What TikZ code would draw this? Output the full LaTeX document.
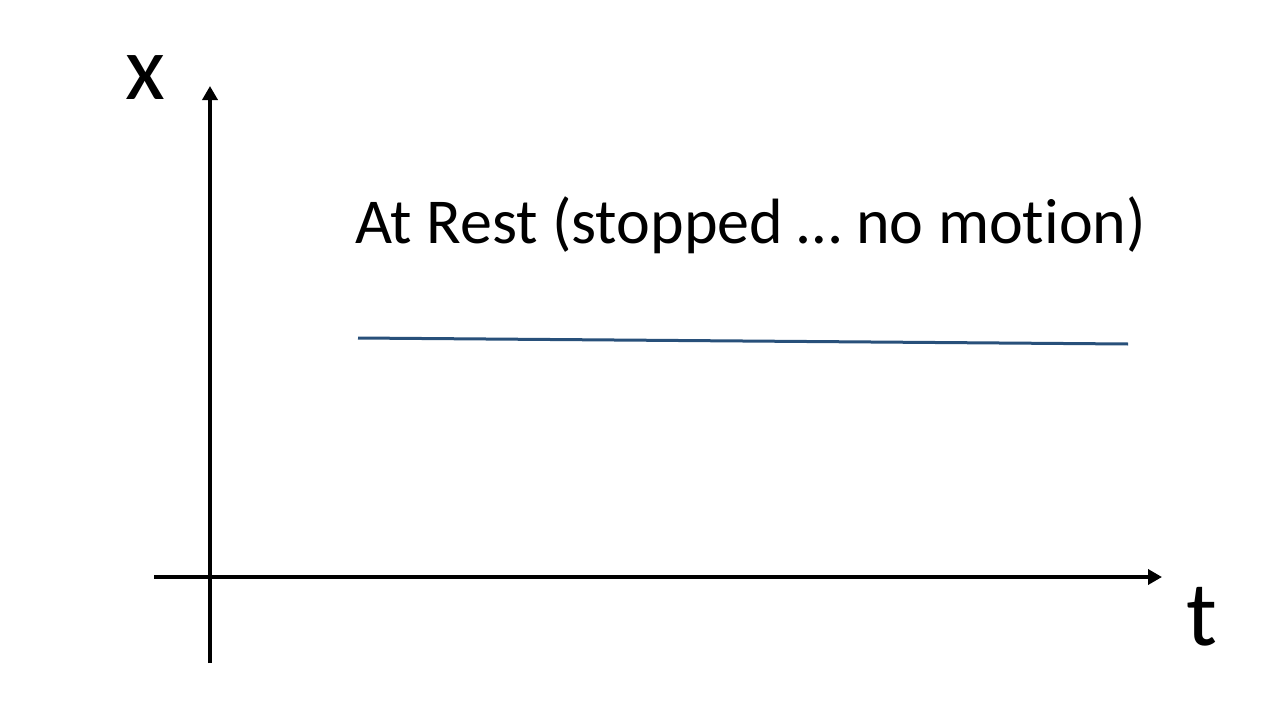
\documentclass[tikz,border=0pt]{standalone}
\usepackage{fontspec}
\setmainfont[Ligatures=NoCommon]{Carlito}
\usetikzlibrary{arrows.meta}
\definecolor{restline}{RGB}{40,80,122}

\begin{document}
\begin{tikzpicture}[x=1pt,y=-1pt,
  axis/.style={line width=4pt,-{Triangle[length=14pt,width=15pt]}},
  axislabel/.style={inner sep=0pt,anchor=base,font=\fontsize{92}{100}\selectfont},
  caption/.style={inner sep=0pt,anchor=base west,font=\fontsize{64}{70}\selectfont}]
  \useasboundingbox (0,0) rectangle (1280,720);
  % axes
  \coordinate (origin) at (210,577);
  \coordinate (xbottom) at (210,663);
  \coordinate (xtop) at (210,86);
  \coordinate (tleft) at (154,577);
  \coordinate (tright) at (1162,577);
  \draw[axis] (xbottom) -- (xtop);
  \draw[axis] (tleft) -- (tright);
  \node[axislabel] (xlabel) at (145,99) {x};
  \node[axislabel] (tlabel) at (1202,645) {t};
  % position line
  \node[caption] (rest) at (355,243) {At Rest (stopped … no motion)};
  \coordinate (linestart) at (358,338);
  \coordinate (lineend) at (1128,344);
  \draw[restline,line width=3pt] (linestart) -- (lineend);
\end{tikzpicture}
\end{document}
